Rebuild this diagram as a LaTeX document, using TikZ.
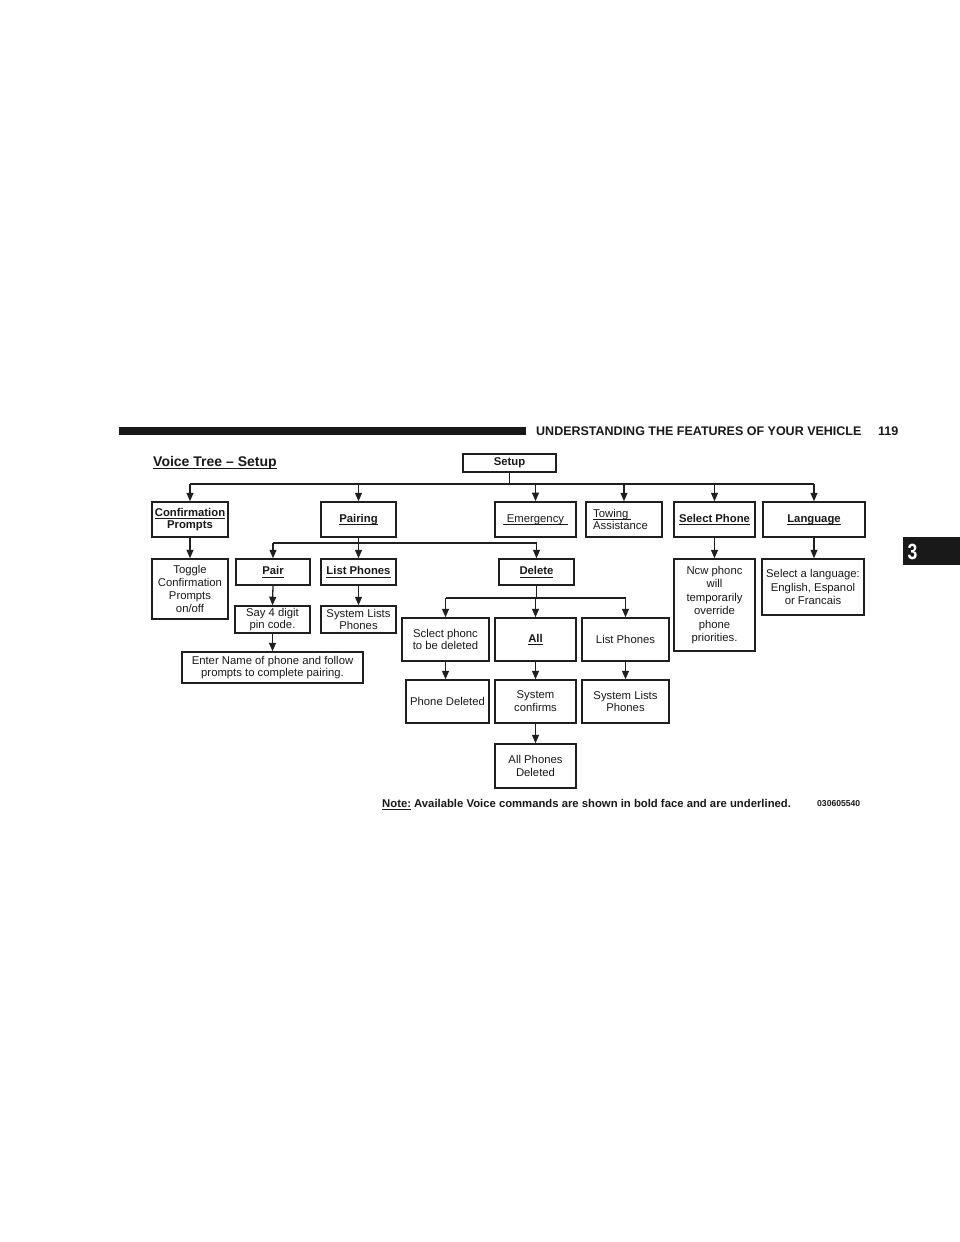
\documentclass[tikz,border=0pt]{standalone}
\usepackage{fontspec}
\setmainfont{Liberation Sans}
\usepackage{graphicx}
\usetikzlibrary{arrows.meta}
\newsavebox\ulbox
\newcommand\myul[1]{\sbox\ulbox{#1}\rlap{\rule[-2.5pt]{\wd\ulbox}{0.7pt}}\usebox\ulbox}
\newcommand\boxfont{\fontsize{11.3}{12.8}\selectfont}
\newcommand\bu[1]{\textbf{\myul{#1}}}
\begin{document}
\begin{tikzpicture}[x=1pt,y=-1pt,
  box/.style={draw=black!88, line width=1.5pt, inner sep=0pt, align=center, font=\boxfont, text=black!90},
  conn/.style={draw=black!88, line width=1.3pt},
  arr/.style={conn, -{Triangle[length=8.5pt,width=7pt]}},
  lbl/.style={inner sep=0pt, anchor=base west, text=black!90}]
\fill[white] (0,0) rectangle (960,1242);
\useasboundingbox (0,0) rectangle (960,1242);

% page header
\fill[black!90] (119,427) rectangle (526,435);
\node[lbl, font=\bfseries\fontsize{12.5}{14}\selectfont] (hdr) at (536,435.5) {UNDERSTANDING THE FEATURES OF YOUR VEHICLE};
\node[lbl, font=\bfseries\fontsize{12.5}{14}\selectfont] (pg) at (878,435.5) {119};
\fill[black!90] (903,537) rectangle (960,565);
\node[lbl, text=white] (tab) at (907.5,559) {\scalebox{0.8}[1]{\bfseries\fontsize{22}{22}\selectfont 3}};

% title
\node[lbl, font=\bfseries\fontsize{14}{16}\selectfont] (title) at (153,466) {\myul{Voice Tree – Setup}};

% level 0
\node[box, minimum width=93pt, minimum height=18pt] (setup) at (509.5,463) {\textbf{Setup}};

% level 1
\node[box, minimum width=76pt, minimum height=35pt] (conf) at (190,519.5) {\bu{Confirmation}\\\textbf{Prompts}};
\node[box, minimum width=75pt, minimum height=35pt] (pairing) at (358.5,519.5) {\bu{Pairing}};
\node[box, minimum width=81pt, minimum height=35pt, line width=1.8pt] (emerg) at (535.5,519.5) {\myul{\hspace{4pt}Emergency\hspace{4pt}}};
\node[box, minimum width=76pt, minimum height=35pt, align=left] (towing) at (624,519.5) {\myul{Towing\hspace{3pt}}\\Assistance\hspace*{7pt}};
\node[box, minimum width=81pt, minimum height=35pt] (selph) at (714.5,519.5) {\bu{Select Phone}};
\node[box, minimum width=102pt, minimum height=35pt] (lang) at (814,519.5) {\bu{Language}};

% level 2
\node[box, minimum width=76pt, minimum height=60pt] (toggle) at (190,589) {Toggle\\Confirmation\\Prompts\\on/off};
\node[box, minimum width=74pt, minimum height=26pt] (pair) at (273,572) {\bu{Pair}};
\node[box, minimum width=75pt, minimum height=26pt] (listph) at (358.5,572) {\bu{List Phones}};
\node[box, minimum width=75pt, minimum height=26pt] (delete) at (536.5,572) {\bu{Delete}};
\node[box, minimum width=81pt, minimum height=92pt, font=\fontsize{11.3}{13.4}\selectfont] (newph) at (714.5,605) {Ncw phonc\\will\\temporarily\\override\\phone\\priorities.};
\node[box, minimum width=102pt, minimum height=56pt, font=\fontsize{11.3}{13.4}\selectfont] (sellang) at (813,587) {Select a language:\\English, Espanol\\or Francais};

% level 3 (pairing)
\node[box, minimum width=75pt, minimum height=27pt] (say) at (272.5,619.5) {Say 4 digit\\pin code.};
\node[box, minimum width=75pt, minimum height=27pt] (syslist) at (358.5,619.5) {System Lists\\Phones};
\node[box, minimum width=181pt, minimum height=31pt] (enter) at (272.5,667.5) {Enter Name of phone and follow\\prompts to complete pairing.};

% level 3 (delete)
\node[box, minimum width=87pt, minimum height=43pt] (selphone) at (445.5,639.5) {Sclect phonc\\to be deleted};
\node[box, minimum width=81pt, minimum height=43pt] (all) at (535.5,639.5) {\bu{All}};
\node[box, minimum width=87pt, minimum height=43pt] (listph2) at (625.5,639.5) {List Phones};
\node[box, minimum width=83pt, minimum height=43pt] (phdel) at (447.5,701.5) {Phone Deleted};
\node[box, minimum width=81pt, minimum height=43pt] (sysconf) at (535.5,701.5) {System\\confirms};
\node[box, minimum width=87pt, minimum height=43pt] (syslist2) at (625.5,701.5) {System Lists\\Phones};
\node[box, minimum width=81pt, minimum height=44pt] (alldel) at (535.5,766) {All Phones\\Deleted};

% connectors: setup bus
\coordinate (busA) at (0,484);
\draw[conn] (setup.south) -- (setup.south |- busA);
\draw[conn] (conf.north |- busA) -- (lang.north |- busA);
\foreach \n in {conf,pairing,emerg,towing,selph,lang}
  \draw[arr] (\n.north |- busA) -- (\n.north);

\draw[arr] (conf.south) -- (toggle.north);
\draw[arr] (selph.south) -- (newph.north);
\draw[arr] (lang.south) -- (lang.south |- sellang.north);

% pairing bus
\coordinate (busB) at (0,543);
\draw[conn] (pairing.south) -- (pairing.south |- busB);
\draw[conn] (pair.north |- busB) -- (delete.north |- busB);
\foreach \n in {pair,listph,delete}
  \draw[arr] (\n.north |- busB) -- (\n.north);

\draw[arr] (pair.south) -- (say.north);
\draw[arr] (listph.south) -- (syslist.north);
\draw[arr] (say.south) -- (enter.north -| say.south);

% delete bus
\coordinate (busC) at (0,598);
\draw[conn] (delete.south) -- (delete.south |- busC);
\draw[conn] (selphone.north |- busC) -- (listph2.north |- busC);
\foreach \n in {selphone,all,listph2}
  \draw[arr] (\n.north |- busC) -- (\n.north);

\draw[arr] (selphone.south) -- (selphone.south |- phdel.north);
\draw[arr] (all.south) -- (sysconf.north);
\draw[arr] (sysconf.south) -- (alldel.north);
\draw[arr] (listph2.south) -- (syslist2.north);

% note
\node[lbl, font=\bfseries\fontsize{11.3}{13}\selectfont] (note) at (382,807) {\myul{Note:} Available Voice commands are shown in bold face and are underlined.};
\node[lbl, font=\bfseries\fontsize{8.6}{10}\selectfont] (code) at (817,806) {030605540};
\end{tikzpicture}
\end{document}
